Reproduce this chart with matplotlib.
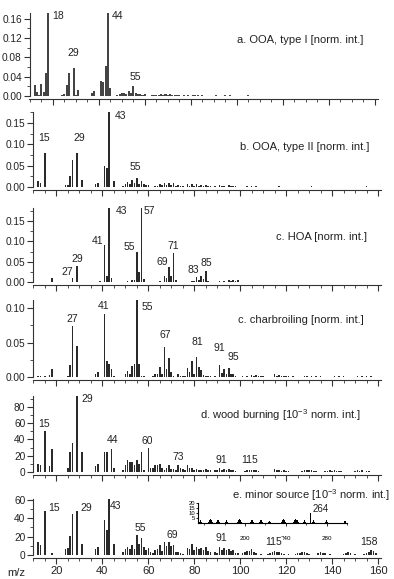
import matplotlib
matplotlib.use('Agg')
import matplotlib.pyplot as plt
from matplotlib.ticker import MultipleLocator, FormatStrFormatter

plt.rcParams['font.family'] = ['Liberation Sans', 'DejaVu Sans']
plt.rcParams['mathtext.fontset'] = 'custom'
plt.rcParams['mathtext.rm'] = 'Liberation Sans'
plt.rcParams['mathtext.default'] = 'regular'

# ---- spectra (m/z and intensity) ----
# a. OOA type I [norm. int.]
mz_ooa1 = [12, 13, 14, 15, 16, 17, 18, 24, 25, 26, 27, 29, 30, 31, 37, 38, 41, 42, 43, 44, 45,
           48, 49, 50, 51, 52, 53, 54, 55, 56, 57, 58, 59, 60, 61, 62, 63, 64, 65, 66, 67, 68, 69,
           70, 71, 72, 73, 74, 75, 76, 77, 78, 79, 81, 82, 83, 84, 85, 86, 87, 89, 91, 93, 95, 97,
           99, 101, 105, 109, 115, 117, 129, 131, 141, 155]
int_ooa1 = [0.023, 0.008, 0.002, 0.025, 0.008, 0.047, 0.172, 0.003, 0.005, 0.022, 0.047, 0.059,
            0.002, 0.013, 0.007, 0.010, 0.031, 0.030, 0.063, 0.172, 0.016,
            0.002, 0.005, 0.006, 0.007, 0.004, 0.011, 0.006, 0.021, 0.006, 0.005, 0.004, 0.003,
            0.004, 0.001, 0.001, 0.002, 0.002, 0.003, 0.002, 0.004, 0.002, 0.004, 0.003, 0.004,
            0.002, 0.003, 0.002, 0.002, 0.001, 0.003, 0.001, 0.002, 0.003, 0.002, 0.002, 0.001,
            0.002, 0.001, 0.001, 0.001, 0.002, 0.001, 0.002, 0.002, 0.001, 0.001, 0.002, 0.001,
            0.001, 0.001, 0.001, 0.001, 0.001, 0.001]

# b. OOA type II [norm. int.]
mz_ooa2 = [12, 13, 15, 24, 25, 26, 27, 29, 31, 37, 38, 41, 42, 43, 45,
           49, 50, 51, 52, 53, 54, 55, 56, 57, 58, 59, 60, 61, 62, 63, 64, 65, 66, 67, 68, 69, 70,
           71, 72, 73, 74, 75, 77, 78, 79, 80, 81, 82, 83, 84, 85, 86, 87, 89, 91, 92, 93, 95, 96,
           97, 98, 99, 101, 103, 105, 107, 109, 115, 117, 119, 128, 131, 141, 152, 155]
int_ooa2 = [0.015, 0.009, 0.079, 0.004, 0.005, 0.025, 0.064, 0.079, 0.017, 0.006, 0.010, 0.049,
            0.044, 0.176, 0.013,
            0.003, 0.008, 0.011, 0.007, 0.017, 0.010, 0.021, 0.008, 0.014, 0.006, 0.005, 0.004,
            0.001, 0.001, 0.003, 0.003, 0.006, 0.004, 0.010, 0.005, 0.010, 0.005, 0.009, 0.003,
            0.004, 0.002, 0.002, 0.007, 0.003, 0.007, 0.002, 0.006, 0.003, 0.004, 0.002, 0.004,
            0.002, 0.002, 0.002, 0.005, 0.002, 0.003, 0.004, 0.002, 0.003, 0.002, 0.001, 0.001,
            0.002, 0.003, 0.002, 0.001, 0.001, 0.002, 0.001, 0.001, 0.002, 0.001, 0.001, 0.002]

# c. HOA [norm. int.]
mz_hoa = [18, 27, 29, 39, 41, 42, 43, 44, 51, 53, 54, 55, 56, 57, 58, 65, 66, 67, 68, 69, 70, 71,
          72, 77, 79, 80, 81, 82, 83, 84, 85, 86, 91, 93, 95, 96, 97, 98, 99, 105, 107, 109, 111,
          113, 115, 125, 127, 141, 155]
int_hoa = [0.010, 0.010, 0.040, 0.002, 0.091, 0.015, 0.182, 0.011, 0.002, 0.004, 0.006, 0.073,
           0.024, 0.182, 0.007, 0.002, 0.001, 0.015, 0.010, 0.037, 0.014, 0.072, 0.005, 0.001,
           0.002, 0.002, 0.012, 0.006, 0.015, 0.007, 0.028, 0.003, 0.002, 0.002, 0.005, 0.003,
           0.006, 0.002, 0.004, 0.001, 0.001, 0.001, 0.001, 0.001, 0.001, 0.001, 0.001, 0.001,
           0.001]

# c. charbroiling [norm. int.]
mz_char = [12, 13, 15, 17, 18, 25, 26, 27, 29, 37, 38, 41, 42, 43, 44, 45, 50, 51, 52, 53, 54,
           55, 56, 57, 58, 62, 63, 64, 65, 66, 67, 68, 69, 70, 71, 73, 74, 75, 76, 77, 78, 79, 80,
           81, 82, 83, 84, 85, 86, 87, 89, 91, 92, 93, 94, 95, 96, 97, 98, 101, 103, 105, 106,
           107, 108, 109, 110, 115, 116, 117, 118, 119, 120, 121, 123, 128, 129, 131, 133, 135,
           141, 143, 145, 151, 153, 155, 157]
int_char = [0.002, 0.001, 0.002, 0.003, 0.011, 0.002, 0.018, 0.074, 0.045, 0.004, 0.007, 0.092,
            0.024, 0.019, 0.011, 0.002, 0.005, 0.009, 0.004, 0.016, 0.019, 0.112, 0.019, 0.002,
            0.002, 0.001, 0.004, 0.005, 0.015, 0.004, 0.044, 0.011, 0.028, 0.007, 0.002, 0.004,
            0.002, 0.002, 0.002, 0.013, 0.007, 0.023, 0.005, 0.029, 0.015, 0.010, 0.003, 0.002,
            0.001, 0.001, 0.002, 0.017, 0.006, 0.012, 0.004, 0.013, 0.005, 0.005, 0.001, 0.001,
            0.002, 0.003, 0.001, 0.003, 0.001, 0.002, 0.001, 0.004, 0.002, 0.003, 0.002, 0.002,
            0.001, 0.002, 0.001, 0.002, 0.002, 0.002, 0.001, 0.001, 0.001, 0.001, 0.001, 0.001,
            0.001, 0.002, 0.001]

# d. wood burning [10^-3 norm. int.]
mz_wood = [12, 13, 15, 17, 18, 25, 26, 27, 29, 31, 37, 38, 41, 42, 44, 45, 49, 50, 51, 52, 53,
           54, 55, 56, 57, 58, 60, 61, 62, 63, 64, 65, 66, 67, 68, 69, 70, 71, 72, 73, 74, 75, 76,
           77, 78, 79, 80, 81, 82, 83, 84, 85, 86, 87, 89, 90, 91, 92, 93, 94, 95, 96, 97, 98,
           102, 103, 104, 105, 106, 107, 108, 115, 116, 117, 118, 119, 120, 121, 127, 128, 129,
           130, 131, 132, 133, 137, 138, 139, 140, 141, 142, 143, 144, 150, 151, 152, 153, 155,
           156]
int_wood = [10, 8, 51, 7, 28, 5, 24, 36, 93.5, 25, 7, 10, 24, 24, 28, 5, 3, 8, 15, 12, 12,
            9, 15, 10, 25, 2, 30, 5, 5, 9, 9, 10, 5, 3, 5, 8, 4, 4, 3, 9, 5, 4, 3,
            9, 5, 5, 3, 4, 3, 2, 3, 4, 2, 2, 2, 2, 5, 3, 4, 3, 4, 2, 3, 1,
            1, 2, 2, 3, 2, 2, 1, 4, 2, 3, 1, 2, 1, 1, 1, 2, 3,
            2, 2, 1, 1, 1, 1, 2, 1, 2, 1, 1, 1, 1, 2, 1, 2, 1,
            1]

# e. minor source [10^-3 norm. int.]
mz_minor = [12, 13, 15, 18, 24, 25, 26, 27, 29, 31, 37, 38, 41, 42, 43, 45, 49, 50, 51, 52, 53,
            54, 55, 56, 57, 58, 59, 60, 61, 62, 63, 64, 65, 66, 67, 68, 69, 70, 71, 72, 73, 74,
            75, 77, 78, 79, 80, 81, 82, 83, 84, 85, 86, 87, 89, 90, 91, 92, 93, 94, 95, 96, 97,
            98, 99, 101, 102, 103, 104, 105, 106, 107, 109, 112, 113, 114, 115, 116, 117, 118,
            119, 121, 124, 125, 126, 127, 128, 129, 130, 134, 135, 136, 137, 139, 145, 146, 147,
            148, 150, 154, 155, 156, 157, 158, 159]
int_minor = [14.5, 10.5, 48, 2, 6, 8, 21, 45, 48, 12, 7, 9, 38, 27, 61, 12, 3, 7, 9, 6, 11,
             7, 22, 12, 18, 9, 5, 8, 3, 2, 5, 6, 11, 4, 14, 10, 14, 10, 11, 3, 3, 2,
             1, 8, 6, 12, 5, 9, 6, 8, 5, 9, 4, 3, 3, 2, 9, 5, 8, 5, 6, 4, 5,
             2, 2, 2, 3, 4, 4, 6, 3, 2, 1, 1, 2, 3, 4, 3, 3, 2,
             1, 1, 1, 2, 2, 3, 3, 2, 1, 2, 3, 2, 2, 1, 1, 2, 3,
             2, 1, 1, 2, 3, 5, 4, 2]

# inset of panel e (high m/z)
mz_inset = [155, 156, 157, 164, 165, 166, 167, 168, 172, 173, 174, 175, 181, 182, 183,
            193, 194, 195, 196, 197, 205, 206, 207, 208, 214, 215, 216, 217, 223, 224, 225,
            236, 237, 238, 239, 240, 248, 249, 250, 251, 252, 257, 258, 259, 264,
            266, 267, 268, 279, 280, 281, 298, 299]
int_inset = [1, 3, 1, 1, 3, 4, 3, 1, 1, 3, 3, 1, 1, 3, 1,
             1, 3, 4, 3, 1, 1, 3, 3, 1, 1, 3, 3, 1, 1, 2, 1,
             1, 3, 4, 3, 1, 1, 3, 4, 3, 1, 1, 3, 1, 10,
             1, 3, 1, 1, 3, 1, 2, 2]

W, H = 394, 579
fig = plt.figure(figsize=(W / 100, H / 100), dpi=100)


def add_px_axes(left, right, top, bottom):
    return fig.add_axes([left / W, 1 - bottom / H, (right - left) / W, (bottom - top) / H])


def draw_panel(ax, mz, vals, top, major, minor, fmt, width=0.7, color='#2a2a2a'):
    ax.bar(mz, vals, width=width, color=color, linewidth=0)
    ax.set_xlim(9.8, 161.3)
    ax.set_ylim(0, top)
    for side in ['top', 'right']:
        ax.spines[side].set_visible(False)
    ax.spines['bottom'].set_position(('outward', 2))
    for side in ['left', 'bottom']:
        ax.spines[side].set_linewidth(0.8)
        ax.spines[side].set_color('#333333')
    ax.xaxis.set_major_locator(MultipleLocator(20))
    ax.xaxis.set_minor_locator(MultipleLocator(5))
    ax.yaxis.set_major_locator(MultipleLocator(major))
    ax.yaxis.set_minor_locator(MultipleLocator(minor))
    ax.yaxis.set_major_formatter(FormatStrFormatter(fmt))
    ax.tick_params(which='major', direction='out', length=4, width=0.8, color='#333333',
                   labelsize=7.3, pad=1.5, labelcolor='#222222')
    ax.tick_params(which='minor', direction='out', length=2.2, width=0.6, color='#333333')
    ax.tick_params(axis='x', labelbottom=False)


def peak_labels(ax, labels, **kw):
    for txt, x, y, ha in labels:
        ax.text(x, y, txt, ha=ha, va='center', fontsize=7.5, color='#222222', **kw)


# a. OOA, type I
ax1 = add_px_axes(29.5, 377.5, 13, 96)
draw_panel(ax1, mz_ooa1, int_ooa1, 0.172, 0.04, 0.02, '%.2f', width=0.9, color='#444444')
peak_labels(ax1, [('18', 19.6, 0.166, 'left'), ('29', 28.7, 0.089, 'center'),
                  ('44', 45.7, 0.166, 'left'), ('55', 55.7, 0.039, 'center')])
ax1.text(0.958, 0.675, 'a. OOA, type I [norm. int.]', transform=ax1.transAxes,
         ha='right', va='center', fontsize=8, color='#222222')

# b. OOA, type II
ax2 = add_px_axes(33, 381, 112, 187)
draw_panel(ax2, mz_ooa2, int_ooa2, 0.176, 0.05, 0.025, '%.2f')
peak_labels(ax2, [('15', 14.6, 0.115, 'center'), ('29', 29.8, 0.115, 'center'),
                  ('43', 45.5, 0.166, 'left'), ('55', 54.2, 0.047, 'center')])
ax2.text(0.968, 0.533, 'b. OOA, type II [norm. int.]', transform=ax2.transAxes,
         ha='right', va='center', fontsize=8, color='#222222')

# c. HOA
ax3 = add_px_axes(33, 381, 208, 282)
draw_panel(ax3, mz_hoa, int_hoa, 0.182, 0.05, 0.025, '%.2f')
peak_labels(ax3, [('27', 24.6, 0.025, 'center'), ('29', 29.0, 0.057, 'center'),
                  ('41', 37.7, 0.101, 'center'), ('43', 45.9, 0.174, 'left'),
                  ('55', 51.6, 0.086, 'center'), ('57', 58.1, 0.174, 'left'),
                  ('69', 66.0, 0.049, 'center'), ('71', 70.8, 0.089, 'center'),
                  ('83', 79.5, 0.030, 'center'), ('85', 85.1, 0.047, 'center')])
ax3.text(0.960, 0.608, 'c. HOA [norm. int.]', transform=ax3.transAxes,
         ha='right', va='center', fontsize=8, color='#222222')

# c. charbroiling
ax4 = add_px_axes(33, 381, 300, 377)
draw_panel(ax4, mz_char, int_char, 0.112, 0.05, 0.025, '%.2f')
peak_labels(ax4, [('27', 26.8, 0.084, 'center'), ('41', 40.7, 0.103, 'center'),
                  ('55', 57.2, 0.102, 'left'), ('67', 67.3, 0.061, 'center'),
                  ('81', 81.2, 0.051, 'center'), ('91', 90.8, 0.042, 'center'),
                  ('95', 96.9, 0.029, 'center')])
ax4.text(0.951, 0.740, 'c. charbroiling [norm. int.]', transform=ax4.transAxes,
         ha='right', va='center', fontsize=8, color='#222222')

# d. wood burning
ax5 = add_px_axes(33, 381, 396, 472)
draw_panel(ax5, mz_wood, int_wood, 93.5, 20, 10, '%d')
peak_labels(ax5, [('15', 14.6, 59, 'center'), ('29', 31.1, 90, 'left'),
                  ('44', 44.2, 39, 'center'), ('60', 59.5, 38, 'center'),
                  ('73', 72.9, 18.5, 'center'), ('91', 91.7, 14.8, 'center'),
                  ('115', 104.3, 14.8, 'center')])
ax5.text(0.943, 0.75, 'd. wood burning [10$^{-3}$ norm. int.]', transform=ax5.transAxes,
         ha='right', va='center', fontsize=8, color='#222222')

# e. minor source
ax6 = add_px_axes(33, 381, 499, 555)
draw_panel(ax6, mz_minor, int_minor, 61, 20, 10, '%d')
ax6.tick_params(axis='x', labelbottom=True, labelsize=8, pad=2)
peak_labels(ax6, [('15', 16.3, 51, 'left'), ('29', 30.3, 51, 'left'),
                  ('43', 43.3, 53, 'left'), ('55', 56.4, 29, 'center'),
                  ('69', 70.3, 22, 'center'), ('91', 91.7, 18.5, 'center'),
                  ('158', 156.1, 14, 'center')])
ax6.text(1.026, 1.07, 'e. minor source [10$^{-3}$ norm. int.]', transform=ax6.transAxes,
         ha='right', va='center', fontsize=8, color='#222222')

fig.text(16 / W, 1 - 573 / H, 'm/z', ha='center', va='center', fontsize=8, color='#222222')

# inset with high m/z part of the minor source
axi = add_px_axes(198, 347, 503, 523)
axi.bar(mz_inset, int_inset, width=1.0, color='black', linewidth=0)
axi.set_xlim(154, 300)
axi.set_ylim(0, 20)
axi.patch.set_alpha(0)
for side in ['top', 'right']:
    axi.spines[side].set_visible(False)
for side in ['left', 'bottom']:
    axi.spines[side].set_linewidth(0.8)
axi.set_yticks([5, 10, 15, 20])
axi.set_xticks([200, 240, 280])
axi.xaxis.set_minor_locator(MultipleLocator(20))
axi.tick_params(axis='y', labelsize=4.2, length=1.5, width=0.6, pad=0.5)
axi.tick_params(axis='x', which='major', labelsize=4.5, length=2, width=0.6, pad=7)
axi.tick_params(axis='x', which='minor', length=1.5, width=0.5)
axi.text(266, 13.5, '264', ha='left', va='center', fontsize=7, color='#222222')

# "115" label of panel e sits over the inset's 240 tick label, as in the original
fig.text(274 / W, 1 - 542 / H, '115', ha='center', va='center', fontsize=7.5, color='#222222',
         zorder=10, bbox=dict(facecolor='white', edgecolor='none', pad=0.3))

plt.savefig('out.png', dpi=100)
